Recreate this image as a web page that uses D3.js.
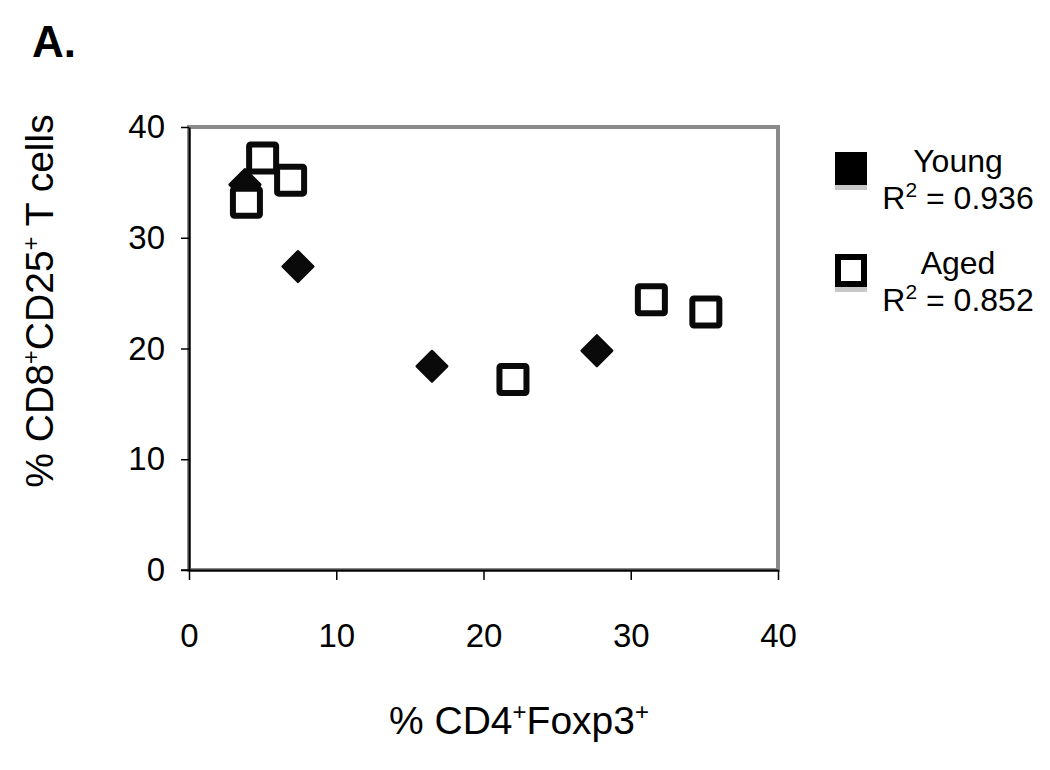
<!DOCTYPE html>
<html>
<head>
<meta charset="utf-8">
<script src="https://cdn.jsdelivr.net/npm/d3@7"></script>
<style>
  body { margin: 0; background: #fff; }
  text { font-family: "Liberation Sans", Arial, sans-serif; fill: #000; }
</style>
</head>
<body>
<script>
// data
const youngX = [3.8, 7.4, 16.5, 27.7];
const youngY = [34.8, 27.4, 18.4, 19.8];
const agedX = [5.0, 6.9, 3.9, 22.0, 31.4, 35.1];
const agedY = [37.2, 35.2, 33.2, 17.2, 24.4, 23.3];
const xTicks = [0, 10, 20, 30, 40];
const yTicks = [0, 10, 20, 30, 40];
const seriesNames = ["Young", "Aged"];
const rSquared = ["0.936", "0.852"];

const W = 1050, H = 770;
const margin = {top: 127, right: 272, bottom: 200, left: 189};
const width = W - margin.left - margin.right,
      height = H - margin.top - margin.bottom;

const svg = d3.select("body").append("svg")
    .attr("width", W)
    .attr("height", H);

const g = svg.append("g")
    .attr("transform", "translate(" + margin.left + "," + margin.top + ")");

let x = d3.scaleLinear().domain([0, 40]).range([0, width]);
let y = d3.scaleLinear().domain([0, 40]).range([height, 0]);

// grey frame of the plot area
g.append("rect")
    .attr("x", 0).attr("y", 0)
    .attr("width", width).attr("height", height)
    .attr("fill", "none")
    .attr("stroke", "#8a8a8a")
    .attr("stroke-width", 4);

// axes
const yAxis = g.append("g")
    .call(d3.axisLeft(y).tickValues(yTicks).tickSize(8).tickPadding(16).tickSizeOuter(0));
const xAxis = g.append("g")
    .attr("transform", "translate(0," + height + ")")
    .call(d3.axisBottom(x).tickValues(xTicks).tickSize(10).tickPadding(44).tickSizeOuter(0));

[xAxis, yAxis].forEach(a => {
    a.select(".domain").attr("stroke", "#000").attr("stroke-width", 2);
    a.selectAll(".tick line").attr("stroke", "#000").attr("stroke-width", 1.5);
    a.selectAll("text").style("font-size", "33px").style("font-family", "Liberation Sans, Arial, sans-serif");
});
// tick at y=0 also sticks out left of the y axis
g.append("line")
    .attr("x1", -8).attr("x2", 0)
    .attr("y1", height).attr("y2", height)
    .attr("stroke", "#000").attr("stroke-width", 1.5);

// young: black diamonds
const dSize = 15;
g.append("g").selectAll("path")
    .data(youngX.map((v, i) => [v, youngY[i]]))
    .join("path")
    .attr("transform", d => "translate(" + x(d[0]) + "," + y(d[1]) + ")")
    .attr("d", "M0,-" + dSize + "L" + dSize + ",0L0," + dSize + "L-" + dSize + ",0Z")
    .attr("fill", "#0a0a0a")
    .attr("stroke", "#0a0a0a")
    .attr("stroke-width", 3)
    .attr("stroke-linejoin", "round");

// aged: open squares
const s = 13.5;
g.append("g").selectAll("rect")
    .data(agedX.map((v, i) => [v, agedY[i]]))
    .join("rect")
    .attr("x", d => x(d[0]) - s)
    .attr("y", d => y(d[1]) - s)
    .attr("width", 2 * s).attr("height", 2 * s)
    .attr("rx", 1.5)
    .attr("fill", "#fff")
    .attr("stroke", "#0a0a0a")
    .attr("stroke-width", 6);

// axis titles
svg.append("text")
    .attr("transform", "translate(53,301) rotate(-90)")
    .attr("text-anchor", "middle")
    .style("font-size", "39px")
    .html('% CD8<tspan dy="-14" font-size="24">+</tspan><tspan dy="14">CD25</tspan><tspan dy="-14" font-size="24">+</tspan><tspan dy="14"> T cells</tspan>');

svg.append("text")
    .attr("x", 519).attr("y", 734)
    .attr("text-anchor", "middle")
    .style("font-size", "39px")
    .html('% CD4<tspan dy="-14" font-size="24">+</tspan><tspan dy="14">Foxp3</tspan><tspan dy="-14" font-size="24">+</tspan>');

// panel letter
svg.append("text")
    .attr("x", 32).attr("y", 57)
    .style("font-size", "44px")
    .style("font-weight", "bold")
    .text("A.");

// legend
const leg = svg.append("g");
seriesNames.forEach((name, i) => {
    const top = 152 + i * 102;
    leg.append("rect")
        .attr("x", 835).attr("y", top + 32)
        .attr("width", 32).attr("height", 6)
        .attr("fill", "#c8c8c8");
    if (i === 0) {
        leg.append("rect")
            .attr("x", 835).attr("y", top)
            .attr("width", 32).attr("height", 33)
            .attr("fill", "#000");
    } else {
        leg.append("rect")
            .attr("x", 838).attr("y", top + 3)
            .attr("width", 26).attr("height", 27)
            .attr("fill", "#fff")
            .attr("stroke", "#000")
            .attr("stroke-width", 6);
    }
    leg.append("text")
        .attr("x", 958).attr("y", top + 20)
        .attr("text-anchor", "middle")
        .style("font-size", "32px")
        .text(name);
    leg.append("text")
        .attr("x", 958).attr("y", top + 57)
        .attr("text-anchor", "middle")
        .style("font-size", "32px")
        .html('R<tspan dy="-12" font-size="21">2</tspan><tspan dy="12"> = ' + rSquared[i] + '</tspan>');
});
</script>
</body>
</html>
